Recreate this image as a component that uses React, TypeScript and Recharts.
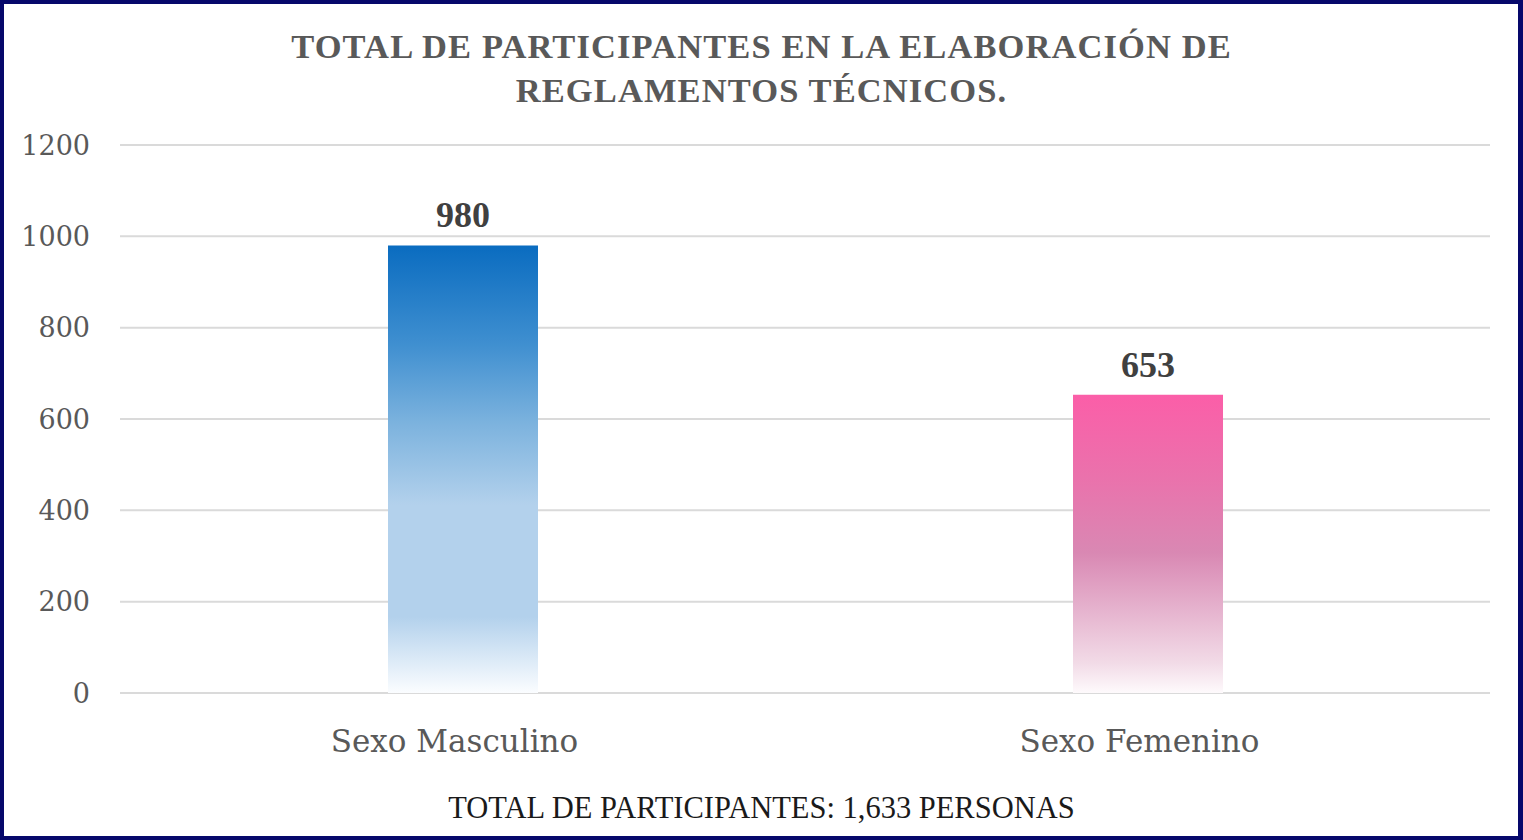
import { Bar, BarChart, CartesianGrid, Cell, LabelList, XAxis, YAxis } from "recharts";

const categories = ["Sexo Masculino", "Sexo Femenino"];
const participants = [980, 653];
const yTicks = [0, 200, 400, 600, 800, 1000, 1200];
const titleLines = ["TOTAL DE PARTICIPANTES EN LA ELABORACIÓN DE", "REGLAMENTOS TÉCNICOS."];
const footerText = "TOTAL DE PARTICIPANTES: 1,633 PERSONAS";

const barFills = ["url(#gradMasc)", "url(#gradFem)"];

const data = categories.map((name, i) => ({ name, value: participants[i] }));

const SERIF = "'DejaVu Serif', 'Liberation Serif', serif";

function App() {
  return (
    <div style={{ position: "absolute", top: 0, left: 0, width: 1523, height: 840, background: "#06086b" }}>
      <div style={{ position: "absolute", left: 4, top: 4, width: 1514, height: 832, background: "#ffffff" }} />
      <div
        style={{
          position: "absolute",
          top: 24,
          left: 0,
          width: 1523,
          textAlign: "center",
          fontFamily: "'Liberation Serif', serif",
          fontWeight: 700,
          fontSize: 34.5,
          lineHeight: "44px",
          letterSpacing: 1.1,
          color: "#595959"
        }}
      >
        {titleLines.map((line) => (
          <div key={line}>{line}</div>
        ))}
      </div>
      <div style={{ position: "absolute", top: 0, left: 0 }}>
        <BarChart
          width={1523}
          height={840}
          data={data}
          margin={{ top: 145, right: 33, bottom: 0, left: 0 }}
          barCategoryGap={0}
        >
          <defs>
            <linearGradient id="gradMasc" x1="0" y1="0" x2="0" y2="1">
              <stop offset="0%" stopColor="#0a6cc0" />
              <stop offset="22%" stopColor="#3f8fd0" />
              <stop offset="40%" stopColor="#7db3de" />
              <stop offset="58%" stopColor="#b3d1ec" />
              <stop offset="83%" stopColor="#b3d1ec" />
              <stop offset="100%" stopColor="#fbfdff" />
            </linearGradient>
            <linearGradient id="gradFem" x1="0" y1="0" x2="0" y2="1">
              <stop offset="0%" stopColor="#fb5ea8" />
              <stop offset="28%" stopColor="#ea72ac" />
              <stop offset="53%" stopColor="#d988b3" />
              <stop offset="70%" stopColor="#e4aecb" />
              <stop offset="90%" stopColor="#f2dbe7" />
              <stop offset="100%" stopColor="#fefafc" />
            </linearGradient>
          </defs>
          <CartesianGrid vertical={false} stroke="#dadada" strokeWidth={2} />
          <XAxis
            dataKey="name"
            axisLine={false}
            tickLine={false}
            tickSize={0}
            tickMargin={37}
            height={147}
            tick={{ fill: "#595959", fontSize: 31, fontFamily: SERIF, dx: -8 }}
          />
          <YAxis
            domain={[0, 1200]}
            ticks={yTicks}
            axisLine={false}
            tickLine={false}
            tickSize={0}
            tickMargin={30}
            width={120}
            tick={{ fill: "#595959", fontSize: 27, fontFamily: SERIF }}
          />
          <Bar dataKey="value" barSize={150} isAnimationActive={false}>
            {data.map((d, i) => (
              <Cell key={d.name} fill={barFills[i]} />
            ))}
            <LabelList
              dataKey="value"
              position="top"
              offset={18}
              fill="#404040"
              fontSize={36}
              fontWeight={700}
              fontFamily="'Liberation Serif', serif"
            />
          </Bar>
        </BarChart>
      </div>
      <div
        style={{
          position: "absolute",
          top: 789,
          left: 0,
          width: 1523,
          textAlign: "center",
          fontFamily: "'Liberation Serif', serif",
          fontSize: 30.5,
          lineHeight: "38px",
          color: "#1a1a1a"
        }}
      >
        {footerText}
      </div>
    </div>
  );
}

export default App;
